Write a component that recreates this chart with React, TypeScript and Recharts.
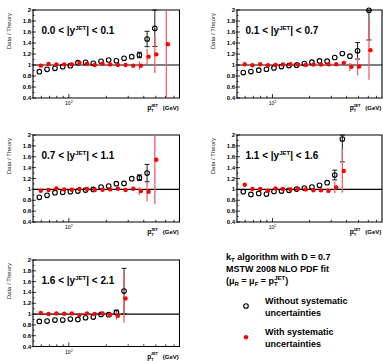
import React from 'react';
import { ScatterChart, Scatter, XAxis, YAxis, ErrorBar, ReferenceLine, ReferenceArea } from 'recharts';

type Err = number | [number, number];

// pT bin centres (GeV), shared by all rapidity regions
const ptBins = [57.9, 66.8, 77.3, 89.3, 102.8, 118.2, 136.2, 157.1, 181.5, 209.0, 240.9, 277.8, 320.2, 369.1, 425.4, 490.8, 607.4];
const rapidityBins: [number, number][] = [[0.0, 0.1], [0.1, 0.7], [0.7, 1.1], [1.1, 1.6], [1.6, 2.1]];
const xTicks = [60, 70, 80, 90, 100, 200, 300, 400, 500, 600, 700];
const yTicks = [0.4, 0.5, 0.6, 0.7, 0.8, 0.9, 1.0, 1.1, 1.2, 1.3, 1.4, 1.5, 1.6, 1.7, 1.8, 1.9, 2.0];
const xDomain: [number, number] = [51.5, 775];
const yDomain: [number, number] = [0.4, 2.0];

// 0.0 < |y| < 0.1
const open1 = [0.879, 0.921, 0.939, 0.970, 0.988, 1.042, 1.048, 1.030, 1.067, 1.091, 1.076, 1.121, 1.152, 1.182, 1.473, 1.667];
const openErr1: Err[] = [0, 0, 0, 0, 0, 0, 0, 0, 0, 0, 0, 0, 0, 0.05, 0.14, [0.33, 0.332]];
const red1 = [0.988, 1.018, 1.012, 1.012, 1.012, 1.042, 1.024, 1.0, 1.024, 1.01, 1.0, 1.0, 0.988, 0.988, 1.152, 1.194, 1.376];
const redErr1: Err[] = [0, 0, 0, 0, 0, 0, 0, 0, 0, 0, 0, 0, 0, 0.075, 0.145, 0.34, [0.97, 0.62]];

// 0.1 < |y| < 0.7
const open2 = [0.862, 0.881, 0.905, 0.923, 0.947, 0.972, 0.990, 0.996, 1.027, 1.051, 1.075, 1.069, 1.136, 1.209, 1.160, 1.258, 1.995];
const openErr2: Err[] = [0, 0, 0, 0, 0, 0, 0, 0, 0, 0, 0, 0, 0, 0, 0, 0.15, [0.54, 0]];
const red2 = [1.014, 0.996, 1.014, 0.996, 1.002, 1.008, 1.014, 1.008, 1.002, 1.008, 1.008, 1.014, 1.014, 1.039, 0.966, 0.972, 1.27];
const redErr2: Err[] = [0, 0, 0, 0, 0, 0, 0, 0, 0, 0, 0, 0, 0, 0, 0.073, 0.16, 0.54];

// 0.7 < |y| < 1.1
const open3 = [0.853, 0.890, 0.939, 0.945, 0.957, 0.969, 0.988, 1.0, 1.043, 1.061, 1.104, 1.110, 1.196, 1.215, 1.30];
const openErr3: Err[] = [0, 0, 0, 0, 0, 0, 0, 0, 0, 0, 0, 0, 0, 0.052, 0.16];
const red3 = [0.975, 0.988, 1.018, 1.0, 0.994, 1.006, 1.006, 0.988, 0.994, 1.0, 1.012, 0.988, 1.012, 0.969, 0.957, 1.546];
const redErr3: Err[] = [0, 0, 0, 0, 0, 0, 0, 0, 0, 0, 0, 0, 0, 0.075, 0.18, [0.82, 0.452]];

// 1.1 < |y| < 1.6
const open4 = [0.957, 0.908, 0.926, 0.914, 0.963, 0.969, 0.982, 1.006, 1.025, 1.043, 1.074, 1.123, 1.264, 1.926];
const openErr4: Err[] = [0, 0, 0, 0, 0, 0, 0, 0, 0, 0, 0, 0, 0.09, [0.42, 0.072]];
const red4 = [1.085, 1.006, 1.006, 0.975, 1.018, 1.006, 1.0, 1.012, 1.0, 0.982, 0.982, 0.975, 1.037, 1.337];
const redErr4: Err[] = [0, 0, 0, 0.03, 0, 0, 0, 0, 0, 0, 0.03, 0.04, 0.11, 0.40];

// 1.6 < |y| < 2.1
const open5 = [0.864, 0.870, 0.889, 0.889, 0.907, 0.901, 0.932, 0.944, 0.994, 0.988, 1.031, 1.426];
const openErr5: Err[] = [0, 0, 0, 0, 0, 0, 0, 0, 0, 0, 0.04, 0.42];
const red5 = [1.019, 1.0, 1.012, 1.006, 1.012, 0.981, 1.012, 1.0, 1.012, 0.988, 0.969, 1.29];
const redErr5: Err[] = [0, 0, 0, 0, 0, 0, 0, 0, 0, 0, 0.07, 0.45];

const seriesTable = [
  { open: open1, openErr: openErr1, red: red1, redErr: redErr1 },
  { open: open2, openErr: openErr2, red: red2, redErr: redErr2 },
  { open: open3, openErr: openErr3, red: red3, redErr: redErr3 },
  { open: open4, openErr: openErr4, red: red4, redErr: redErr4 },
  { open: open5, openErr: openErr5, red: red5, redErr: redErr5 },
];

const FONT = "'Liberation Sans', Arial, Helvetica, sans-serif";
const RED = '#ff0000';
const RED_BAR = '#f26262';

function toData(vals: number[], errs: Err[]) {
  return vals.map((v, i) => ({ pt: ptBins[i], r: v, err: errs[i] ? errs[i] : undefined }));
}

const OpenMarker = (p: any) => (
  <circle cx={p.cx} cy={p.cy} r={2.3} fill="none" stroke="#000" strokeWidth={1.1} />
);
const RedMarker = (p: any) => <circle cx={p.cx} cy={p.cy} r={2.2} fill={RED} />;

const XTick = (p: any) => {
  const { x, y, payload } = p;
  const major = payload.value === 100;
  return (
    <g>
      <line x1={x} x2={x} y1={y} y2={y - (major ? 4 : 2.2)} stroke="#000" strokeWidth={0.8} />
      {major && (
        <text x={x} y={y + 7} textAnchor="middle" fontSize={5} fontFamily={FONT} fill="#000">
          10<tspan dy={-2} fontSize={3.6}>2</tspan>
        </text>
      )}
    </g>
  );
};

const YTick = (p: any) => {
  const { x, y, payload } = p;
  const v: number = payload.value;
  const major = Math.round(v * 10) % 2 === 0;
  const label = Math.abs(v - 1) < 1e-6 ? '1' : Math.abs(v - 2) < 1e-6 ? '2' : v.toFixed(1);
  return (
    <g>
      <line x1={x - (major ? 1.5 : 0)} x2={x + (major ? 3 : 1.5)} y1={y} y2={y} stroke="#000" strokeWidth={0.8} />
      {major && (
        <text x={x - 1.8} y={y + 2} textAnchor="end" fontSize={6} fontWeight="bold" fontFamily={FONT} fill="#000">
          {label}
        </text>
      )}
    </g>
  );
};

type PanelProps = { L: number; T: number; W: number; H: number; idx: number };

function Panel({ L, T, W, H, idx }: PanelProps) {
  const s = seriesTable[idx];
  const openData = toData(s.open, s.openErr);
  const redData = toData(s.red, s.redErr);
  const [lo, hi] = rapidityBins[idx];
  const cw = W + 33;
  const ch = H + 32;
  const right = 32 + W;
  const bottom = 10 + H;
  return (
    <div style={{ position: 'absolute', left: L - 32, top: T - 10, width: cw, height: ch }}>
      <ScatterChart width={cw} height={ch} margin={{ top: 10, right: 1, bottom: 0, left: 0 }}>
        <XAxis
          dataKey="pt"
          type="number"
          scale="log"
          domain={xDomain}
          ticks={xTicks}
          interval={0}
          tick={(p: any) => <XTick {...p} />}
          tickSize={0}
          tickMargin={0}
          axisLine={false}
          tickLine={false}
          height={22}
        />
        <YAxis
          dataKey="r"
          type="number"
          domain={yDomain}
          ticks={yTicks}
          interval={0}
          tick={(p: any) => <YTick {...p} />}
          tickSize={0}
          tickMargin={0}
          axisLine={false}
          tickLine={false}
          width={32}
        />
        <ReferenceLine y={1} stroke="#000" strokeWidth={1.2} />
        <Scatter data={openData} shape={OpenMarker} isAnimationActive={false}>
          <ErrorBar dataKey="err" direction="y" width={2.5} stroke="#000" strokeWidth={0.9} isAnimationActive={false} />
        </Scatter>
        <Scatter data={redData} shape={RedMarker} className="red-series" isAnimationActive={false}>
          <ErrorBar dataKey="err" direction="y" width={0.01} stroke={RED_BAR} strokeWidth={1.3} isAnimationActive={false} />
        </Scatter>
        <ReferenceArea x1={xDomain[0]} x2={xDomain[1]} y1={yDomain[0]} y2={yDomain[1]} fill="none" fillOpacity={0} stroke="#000" strokeWidth={1.1} />
      </ScatterChart>
      <svg width={cw} height={ch} style={{ position: 'absolute', left: 0, top: 0, pointerEvents: 'none' }} fontFamily={FONT}>
        <text x={32 + 8.5} y={10 + 23.5} fontSize={10} fontWeight="bold" fill="#000">
          {`${lo.toFixed(1)} < |y`}
          <tspan dy={-4} fontSize={6}>JET</tspan>
          <tspan dy={4}>{`| < ${hi.toFixed(1)}`}</tspan>
        </text>
        <text transform={`translate(9.5, ${10 + 3}) rotate(-90)`} textAnchor="end" fontSize={6} fill="#222">
          Data / Theory
        </text>
        <text x={right - 32.3} y={bottom + 12} fontSize={6.5} fontWeight="bold" fill="#000">p</text>
        <text x={right - 28.3} y={bottom + 14.2} fontSize={3.8} fontWeight="bold" fill="#000">T</text>
        <text x={right - 28.8} y={bottom + 8.5} fontSize={4} fontWeight="bold" fill="#000">JET</text>
        <text x={right - 0.7} y={bottom + 12} textAnchor="end" fontSize={6} fontWeight="bold" fill="#000">(GeV)</text>
      </svg>
    </div>
  );
}

function Legend() {
  return (
    <svg width={383} height={361} style={{ position: 'absolute', left: 0, top: 0, pointerEvents: 'none' }} fontFamily={FONT} fontWeight="bold" fill="#000">
      <text x={226} y={260} fontSize={9}>
        k<tspan dy={2} fontSize={6}>T</tspan>
        <tspan dy={-2}> algorithm with D = 0.7</tspan>
      </text>
      <text x={226} y={272.3} fontSize={9}>MSTW 2008 NLO PDF fit</text>
      <text x={226} y={283.5} fontSize={9}>
        (μ<tspan dy={2} fontSize={6}>R</tspan>
        <tspan dy={-2}> = μ</tspan>
        <tspan dy={2} fontSize={6}>F</tspan>
        <tspan dy={-2}> = p</tspan>
        <tspan dy={2} fontSize={6}>T</tspan>
        <tspan dy={-6} dx={-3.6} fontSize={6}>JET</tspan>
        <tspan dy={4}>)</tspan>
      </text>
      <circle cx={246} cy={306} r={2.3} fill="none" stroke="#000" strokeWidth={1.1} />
      <text x={265} y={304.3} fontSize={9}>Without systematic</text>
      <text x={265} y={315.5} fontSize={9}>uncertainties</text>
      <circle cx={246} cy={337.3} r={2.2} fill={RED} />
      <text x={265} y={334.5} fontSize={9}>With systematic</text>
      <text x={265} y={346.5} fontSize={9}>uncertainties</text>
    </svg>
  );
}

export default function App() {
  return (
    <div style={{ position: 'absolute', left: 0, top: 0, width: 383, height: 361, overflow: 'hidden', background: '#fff' }}>
      <style>{`.red-series { transform: translateX(1.5px); }`}</style>
      <Panel L={32.5} T={10} W={146.5} H={88} idx={0} />
      <Panel L={236.5} T={10} W={145} H={88} idx={1} />
      <Panel L={32.5} T={135} W={146.5} H={87} idx={2} />
      <Panel L={236.5} T={135} W={145} H={87} idx={3} />
      <Panel L={32.5} T={260} W={146.5} H={86.5} idx={4} />
      <Legend />
    </div>
  );
}
